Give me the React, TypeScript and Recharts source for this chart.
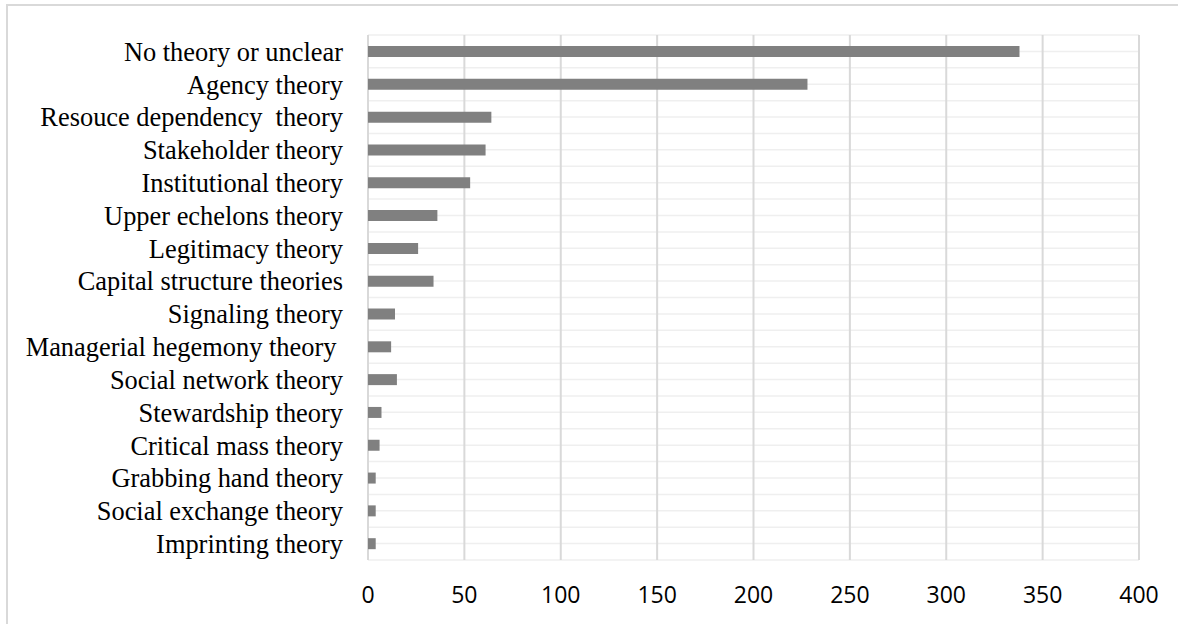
import React from 'react';
import { BarChart, Bar, XAxis, YAxis, CartesianGrid } from 'recharts';

const theories = [
  'No theory or unclear',
  'Agency theory',
  'Resouce dependency  theory',
  'Stakeholder theory',
  'Institutional theory',
  'Upper echelons theory',
  'Legitimacy theory',
  'Capital structure theories',
  'Signaling theory',
  'Managerial hegemony theory ',
  'Social network theory',
  'Stewardship theory',
  'Critical mass theory',
  'Grabbing hand theory',
  'Social exchange theory',
  'Imprinting theory',
];

const counts = [338, 228, 64, 61, 53, 36, 26, 34, 14, 12, 15, 7, 6, 4, 4, 4];

const xTicks = [0, 50, 100, 150, 200, 250, 300, 350, 400];

const chartData = theories.map((name, i) => ({ name, count: counts[i] }));

// labels keep their double / trailing spaces like the original
const TheoryTick = ({ x, y, payload }: any) => (
  <text
    x={x}
    y={y}
    dy="0.355em"
    textAnchor="end"
    fill="#000"
    fontSize={26.4}
    fontFamily="'Liberation Serif', 'Times New Roman', serif"
    style={{ whiteSpace: 'pre' }}
  >
    {payload.value}
  </text>
);

// a light line at every category edge and centre
const halfRowLines = ({ offset }: any) => {
  const steps = theories.length * 2;
  const lines: number[] = [];
  for (let i = 0; i <= steps; i++) {
    lines.push(offset.top + (offset.height * i) / steps);
  }
  return lines;
};

export default function App() {
  return (
    <div style={{ position: 'absolute', left: 0, top: 0, width: 1178, height: 624, background: '#fff', overflow: 'hidden' }}>
      <div
        style={{
          position: 'absolute',
          left: 6,
          top: 4,
          width: 1200,
          height: 700,
          borderLeft: '2px solid #d9d9d9',
          borderTop: '2px solid #d9d9d9',
        }}
      />
      <div style={{ position: 'absolute', left: 0, top: 0 }}>
        <BarChart
          width={1178}
          height={624}
          data={chartData}
          layout="vertical"
          barSize={11}
          margin={{ top: 35, right: 39, left: 0, bottom: 14 }}
        >
          <CartesianGrid vertical={false} stroke="#efefef" strokeWidth={1.5} horizontalCoordinatesGenerator={halfRowLines} />
          <CartesianGrid horizontal={false} stroke="#d9d9d9" strokeWidth={2} />
          <XAxis
            type="number"
            domain={[0, 400]}
            ticks={xTicks}
            axisLine={false}
            tickLine={false}
            tickSize={6}
            tickMargin={21}
            height={50}
            interval={0}
            tick={{ fill: '#000', fontSize: 23, fontFamily: "'Open Sans', sans-serif" }}
          />
          <YAxis
            type="category"
            dataKey="name"
            width={368}
            axisLine={false}
            tickLine={false}
            tickSize={6}
            tickMargin={19}
            interval={0}
            tick={<TheoryTick />}
          />
          <Bar dataKey="count" fill="#808080" isAnimationActive={false} />
        </BarChart>
      </div>
    </div>
  );
}
